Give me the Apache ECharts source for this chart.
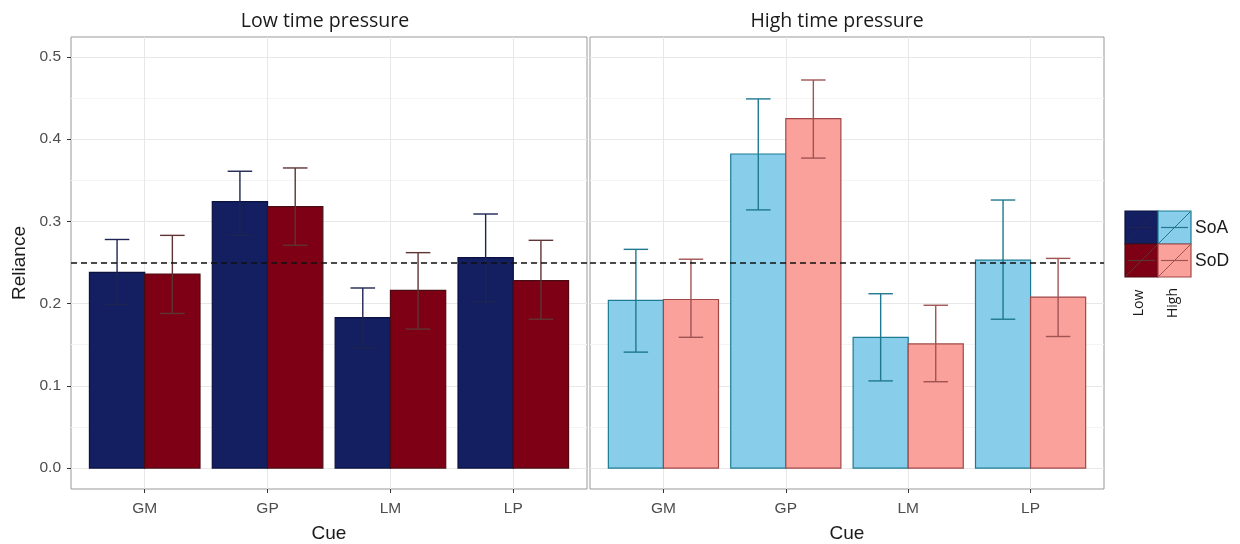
<!DOCTYPE html>
<html>
<head>
<meta charset="utf-8">
<script src="https://cdn.jsdelivr.net/npm/echarts@6/dist/echarts.min.js"></script>
<style>html,body{margin:0;padding:0;background:#fff}#c{width:1240px;height:544px}</style>
</head>
<body>
<div id="c"></div>
<script>
// ---- data ----
const categories = ['GM', 'GP', 'LM', 'LP'];
const panelTitles = ['Low time pressure', 'High time pressure'];
const yTicks = [0, 0.1, 0.2, 0.3, 0.4, 0.5];
const yMinorTicks = [0.05, 0.15, 0.25, 0.35, 0.45];
const chanceLevel = 0.25;

const lowSoA = [0.238, 0.324, 0.183, 0.256];
const lowSoALo = [0.199, 0.283, 0.146, 0.202];
const lowSoAHi = [0.278, 0.361, 0.219, 0.309];
const lowSoD = [0.236, 0.318, 0.216, 0.228];
const lowSoDLo = [0.188, 0.271, 0.169, 0.181];
const lowSoDHi = [0.283, 0.365, 0.262, 0.277];

const highSoA = [0.204, 0.382, 0.159, 0.253];
const highSoALo = [0.141, 0.314, 0.106, 0.181];
const highSoAHi = [0.266, 0.449, 0.212, 0.326];
const highSoD = [0.205, 0.425, 0.151, 0.208];
const highSoDLo = [0.159, 0.377, 0.105, 0.160];
const highSoDHi = [0.254, 0.472, 0.198, 0.255];

// ---- styles ----
const C = {
  lowSoA: {fill: '#131f60', stroke: '#0b1240', err: '#1e2552'},
  lowSoD: {fill: '#7e0014', stroke: '#4a0c12', err: '#5e3434'},
  highSoA: {fill: '#88cde9', stroke: '#1c7b93', err: '#1f7890'},
  highSoD: {fill: '#fba19b', stroke: '#a04848', err: '#a05353'}
};
const BAR_W = 0.45, CAP_W = 0.2;
const xs = categories.map((c, i) => i + 1);

function barSeries(grid, vals, offset, st) {
  return {
    type: 'custom', xAxisIndex: grid, yAxisIndex: grid * 2, z: 3,
    data: vals.map((v, i) => [xs[i], v]),
    renderItem: function (params, api) {
      const x = api.value(0), y = api.value(1);
      const p0 = api.coord([x + offset, y]);
      const p1 = api.coord([x + offset + BAR_W, 0]);
      return {type: 'rect', shape: {x: p0[0], y: p0[1], width: p1[0] - p0[0], height: p1[1] - p0[1]},
        style: {fill: st.fill, stroke: st.stroke, lineWidth: 1.2}};
    }
  };
}
function errSeries(grid, lo, hi, offset, st) {
  return {
    type: 'custom', xAxisIndex: grid, yAxisIndex: grid * 2, z: 4,
    data: lo.map((v, i) => [xs[i], v, hi[i]]),
    renderItem: function (params, api) {
      const xc = api.value(0) + offset + BAR_W / 2;
      const a = api.coord([xc, api.value(1)]);
      const b = api.coord([xc, api.value(2)]);
      const l1 = api.coord([xc - CAP_W / 2, 0]);
      const r1 = api.coord([xc + CAP_W / 2, 0]);
      const s = {stroke: st.err, lineWidth: 1.4};
      return {type: 'group', children: [
        {type: 'line', shape: {x1: a[0], y1: a[1], x2: b[0], y2: b[1]}, style: s},
        {type: 'line', shape: {x1: l1[0], y1: a[1], x2: r1[0], y2: a[1]}, style: s},
        {type: 'line', shape: {x1: l1[0], y1: b[1], x2: r1[0], y2: b[1]}, style: s}
      ]};
    }
  };
}
function refLine(grid) {
  return {
    type: 'line', xAxisIndex: grid, yAxisIndex: grid * 2, data: [], z: 5,
    markLine: {silent: true, symbol: 'none', label: {show: false},
      lineStyle: {color: '#111', type: [6, 4], width: 1.5},
      data: [{yAxis: chanceLevel}]}
  };
}

const FONT = '"Liberation Sans", Arial, sans-serif';
const TFONT = '"Open Sans", sans-serif';
const Y_MIN = -0.0255, Y_MAX = 0.5243;

function xAxis(grid) {
  return {
    type: 'value', gridIndex: grid, min: 0.4, max: 4.6,
    name: 'Cue', nameLocation: 'middle', nameGap: 35,
    nameTextStyle: {fontFamily: FONT, fontSize: 19, color: '#1a1a1a'},
    axisLine: {show: false, onZero: false},
    axisTick: {show: true, length: 4, customValues: xs, lineStyle: {color: '#333'}},
    axisLabel: {customValues: xs, margin: 12, fontFamily: FONT, fontSize: 15.5, color: '#4d4d4d',
      formatter: v => categories[Math.round(v) - 1] || ''},
    splitLine: {show: true, lineStyle: {color: '#e8e8e8', width: 1}}
  };
}
function yAxisMajor(grid, showLabels) {
  return {
    type: 'value', gridIndex: grid, min: Y_MIN, max: Y_MAX,
    name: showLabels ? 'Reliance' : '', nameLocation: 'middle', nameGap: 42, nameRotate: 90,
    nameTextStyle: {fontFamily: FONT, fontSize: 19, color: '#1a1a1a'},
    axisLine: {show: false, onZero: false},
    axisTick: {show: showLabels, length: 4, customValues: yTicks, lineStyle: {color: '#333'}},
    axisLabel: {show: showLabels, customValues: yTicks, margin: 10, fontFamily: FONT, fontSize: 15.5, color: '#4d4d4d',
      formatter: v => v.toFixed(1)},
    splitLine: {show: true, lineStyle: {color: '#e8e8e8', width: 1}}
  };
}
function yAxisMinor(grid) {
  return {
    type: 'value', gridIndex: grid, min: Y_MIN, max: Y_MAX, position: 'left',
    axisLine: {show: false, onZero: false},
    axisTick: {show: false, customValues: yMinorTicks},
    axisLabel: {show: false, customValues: yMinorTicks},
    splitLine: {show: true, lineStyle: {color: '#f4f4f4', width: 1}}
  };
}

const option = {
  animation: false,
  backgroundColor: '#fff',
  title: [
    {text: panelTitles[0], left: 320, top: 6, textAlign: 'center',
      textStyle: {fontFamily: TFONT, fontSize: 19.5, fontWeight: 'normal', color: '#1a1a1a'}},
    {text: panelTitles[1], left: 832, top: 6, textAlign: 'center',
      textStyle: {fontFamily: TFONT, fontSize: 19.5, fontWeight: 'normal', color: '#1a1a1a'}}
  ],
  grid: [
    {left: 71, top: 37, width: 516, height: 452, show: true, borderColor: '#999', borderWidth: 1,
      containLabel: false, outerBoundsMode: 'none'},
    {left: 590, top: 37, width: 514, height: 452, show: true, borderColor: '#999', borderWidth: 1,
      containLabel: false, outerBoundsMode: 'none'}
  ],
  xAxis: [xAxis(0), xAxis(1)],
  yAxis: [yAxisMajor(0, true), yAxisMinor(0), yAxisMajor(1, false), yAxisMinor(1)],
  series: [
    barSeries(0, lowSoA, -BAR_W, C.lowSoA),
    barSeries(0, lowSoD, 0, C.lowSoD),
    errSeries(0, lowSoALo, lowSoAHi, -BAR_W, C.lowSoA),
    errSeries(0, lowSoDLo, lowSoDHi, 0, C.lowSoD),
    refLine(0),
    barSeries(1, highSoA, -BAR_W, C.highSoA),
    barSeries(1, highSoD, 0, C.highSoD),
    errSeries(1, highSoALo, highSoAHi, -BAR_W, C.highSoA),
    errSeries(1, highSoDLo, highSoDHi, 0, C.highSoD),
    refLine(1)
  ],
  graphic: (function () {
    const L = 1125, T = 211, S = 33;
    const keys = [
      [C.lowSoA, 0, 0], [C.highSoA, 1, 0], [C.lowSoD, 0, 1], [C.highSoD, 1, 1]
    ];
    const els = [];
    keys.forEach(([st, cx, ry]) => {
      const x = L + cx * S, y = T + ry * S;
      els.push({type: 'rect', shape: {x: x, y: y, width: S, height: S},
        style: {fill: st.fill, stroke: st.stroke, lineWidth: 1.2}});
      els.push({type: 'line', shape: {x1: x + 1, y1: y + S - 1, x2: x + S - 1, y2: y + 1},
        style: {stroke: st.err, lineWidth: 1}});
      els.push({type: 'line', shape: {x1: x + 3, y1: y + S / 2, x2: x + S - 3, y2: y + S / 2},
        style: {stroke: st.err, lineWidth: 1.2}});
    });
    els.push({type: 'text', x: 1195, y: 228, style: {text: 'SoA', fontFamily: FONT, fontSize: 17.5, fill: '#1a1a1a', verticalAlign: 'middle'}});
    els.push({type: 'text', x: 1195, y: 261, style: {text: 'SoD', fontFamily: FONT, fontSize: 17.5, fill: '#1a1a1a', verticalAlign: 'middle'}});
    els.push({type: 'text', x: 1139, y: 303, rotation: Math.PI / 2,
      style: {text: 'Low', fontFamily: TFONT, fontSize: 14, fill: '#1a1a1a', align: 'center', verticalAlign: 'middle'}});
    els.push({type: 'text', x: 1173, y: 303, rotation: Math.PI / 2,
      style: {text: 'High', fontFamily: TFONT, fontSize: 14, fill: '#1a1a1a', align: 'center', verticalAlign: 'middle'}});
    return els;
  })()
};

const chart = echarts.init(document.getElementById('c'), null, {renderer: 'canvas'});
chart.setOption(option);
</script>
</body>
</html>
